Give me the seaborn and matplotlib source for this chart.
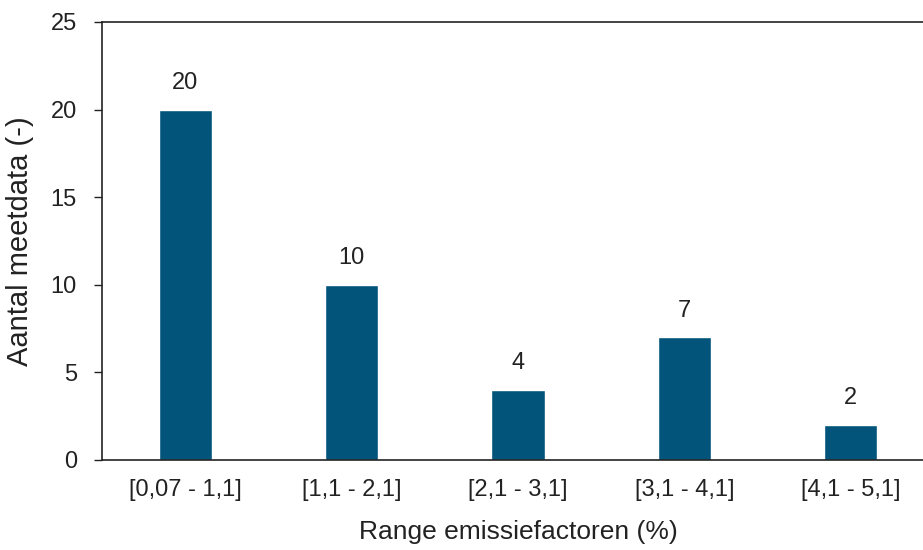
import matplotlib
matplotlib.use("Agg")
import matplotlib.pyplot as plt
import seaborn as sns
import pandas as pd

categories = ["[0,07 - 1,1]", "[1,1 - 2,1]", "[2,1 - 3,1]", "[3,1 - 4,1]", "[4,1 - 5,1]"]
counts = [20, 10, 4, 7, 2]
yticks = [0, 5, 10, 15, 20, 25]

sns.set_theme(style="white")
plt.rcParams['font.family'] = ['Liberation Sans', 'DejaVu Sans']

df = pd.DataFrame({"cat": categories, "n": counts})

fig = plt.figure(figsize=(9.23, 5.5), dpi=100)
ax = fig.add_axes([102/923, 1-460/550, 832/923, 438/550])
sns.barplot(data=df, x="cat", y="n", color="#02547A", width=0.32, saturation=1, ax=ax)

ax.set_ylim(0, 25)
ax.set_xlim(-0.5, 4.5)
ax.set_yticks(yticks)
ax.tick_params(axis="y", left=True, direction="out", length=6, width=1, colors="#222222", labelsize=17, pad=12)
ax.tick_params(axis="x", bottom=False, length=0, labelsize=17, pad=14, colors="#222222")
for lab in ax.get_yticklabels() + ax.get_xticklabels():
    lab.set_color("#222222")

for s in ["left", "bottom", "top"]:
    ax.spines[s].set_visible(True)
    ax.spines[s].set_color("#222222")
    ax.spines[s].set_linewidth(1.2)
ax.spines["right"].set_visible(False)

for i, v in enumerate(counts):
    ax.text(i, v + 0.9, str(v), ha="center", va="bottom", fontsize=17, color="#222222")

ax.set_xlabel("Range emissiefactoren (%)", fontsize=19, color="#222222", labelpad=13)
ax.set_ylabel("Aantal meetdata (-)", fontsize=21, color="#222222", labelpad=12)

fig.savefig("out.png", dpi=100)
